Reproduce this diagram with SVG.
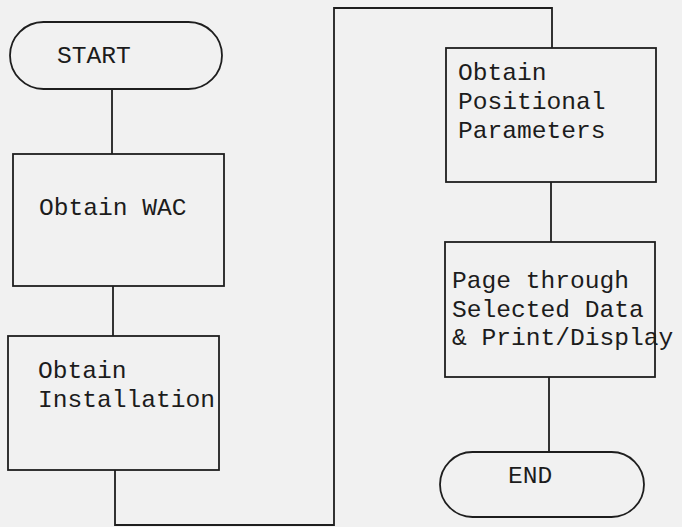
<svg xmlns="http://www.w3.org/2000/svg" width="682" height="527" viewBox="0 0 682 527">
<style>
.shape{fill:none;stroke:#1e1e1e;stroke-width:1.8}
.conn{fill:none;stroke:#1e1e1e;stroke-width:1.8}
text{font-family:"Liberation Mono","DejaVu Sans Mono",monospace;font-size:24.6px;fill:#1c1c1c}
</style>
<rect x="0" y="0" width="682" height="527" fill="#f1f1f1"/>
<g id="connectors">
<path class="conn" d="M112 89 V154"/>
<path class="conn" d="M113 286 V336"/>
<path class="conn" d="M115 470 V525 H334 V8 H552 V48"/>
<path class="conn" d="M551 182 V242"/>
<path class="conn" d="M549 377 V452"/>
</g>
<g id="start">
<rect class="shape" x="10" y="22" width="212" height="67" rx="33.5" ry="33.5"/>
<text x="57" y="63">START</text>
</g>
<g id="obtain-wac">
<rect class="shape" x="13" y="154" width="211" height="132"/>
<text x="39" y="215">Obtain WAC</text>
</g>
<g id="obtain-installation">
<rect class="shape" x="8" y="336" width="211" height="134"/>
<text x="38" y="378">Obtain</text>
<text x="38" y="407">Installation</text>
</g>
<g id="obtain-positional">
<rect class="shape" x="446" y="48" width="210" height="134"/>
<text x="458" y="80">Obtain</text>
<text x="458" y="109">Positional</text>
<text x="458" y="138">Parameters</text>
</g>
<g id="page-through">
<rect class="shape" x="445" y="242" width="210" height="135"/>
<text x="452" y="288">Page through</text>
<text x="452" y="317">Selected Data</text>
<text x="452" y="345">&amp; Print/Display</text>
</g>
<g id="end">
<rect class="shape" x="440" y="452" width="204" height="65" rx="32.5" ry="32.5"/>
<text x="508" y="483">END</text>
</g>
</svg>
